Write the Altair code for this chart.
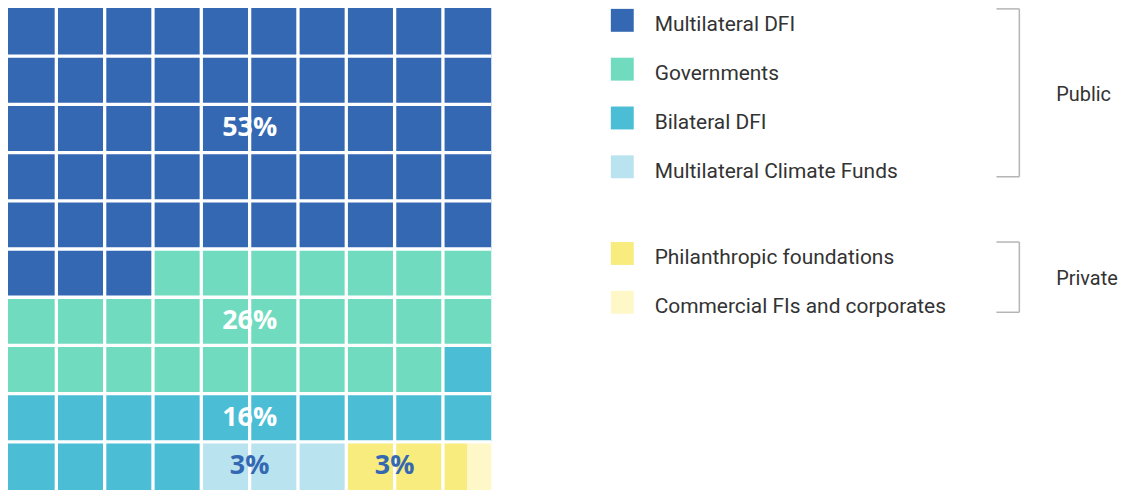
import math
import altair as alt
import pandas as pd

# ---------------- data ----------------
categories = [
    "Multilateral DFI",
    "Governments",
    "Bilateral DFI",
    "Multilateral Climate Funds",
    "Philanthropic foundations",
    "Commercial FIs and corporates",
]
cell_counts = [53, 26, 15, 3, 2.5, 0.5]          # cells out of 100 in the waffle
groups = ["Public", "Public", "Public", "Public", "Private", "Private"]
colors = ["#3468b3", "#70dbbf", "#4bbed6", "#b9e3ef", "#f7ec7d", "#fef7c7"]

pct_labels = ["53%", "26%", "16%", "3%", "3%"]
pct_label_col = [5, 5, 5, 5, 8]
pct_label_row = [2.5, 6.5, 8.5, 9.5, 9.5]
pct_label_color = ["white", "white", "white", "#3468b3", "#3468b3"]

group_names = ["Public", "Private"]

# ---------------- layout ----------------
GRID = 10
W1 = 485
W2 = 510
H = 484
SPACING = 109
ROW_STEP = 49
GROUP_GAP = 38
FIRST_Y = 12.5
SQ_X = 20.5
TXT_X = 53
BR_X = 419
BR_TICK_X = 396
BR_LABEL_X = 456
FONT_SIZE = 21
GROUP_FONT_SIZE = 20

# ---------------- waffle cells ----------------
segs = []
pos = 0.0
for cat, n in zip(categories, cell_counts):
    end = pos + n
    p = pos
    while p < end - 1e-9:
        cell = math.floor(p + 1e-9)
        row = cell // GRID
        nxt = min(end, cell + 1)
        segs.append(dict(cat=cat, x=p - row * GRID, x2=nxt - row * GRID, y=row, y2=row + 1))
        p = nxt
    pos = end
seg_df = pd.DataFrame(segs)

xs = alt.Scale(domain=[0, GRID], nice=False, zero=False)
ys = alt.Scale(domain=[0, GRID], nice=False, zero=False, reverse=True)
cscale = alt.Scale(domain=categories, range=colors)

cells = alt.Chart(seg_df).mark_rect(strokeWidth=0).encode(
    x=alt.X("x:Q", scale=xs, axis=None),
    x2="x2:Q",
    y=alt.Y("y:Q", scale=ys, axis=None),
    y2="y2:Q",
    color=alt.Color("cat:N", scale=cscale, legend=None),
)

grid_df = pd.DataFrame({"g": list(range(1, GRID))})
vlines = alt.Chart(grid_df).mark_rule(color="white", strokeWidth=3.3).encode(
    x=alt.X("g:Q", scale=xs, axis=None)
)
hlines = alt.Chart(grid_df).mark_rule(color="white", strokeWidth=3.3).encode(
    y=alt.Y("g:Q", scale=ys, axis=None)
)

lab_df = pd.DataFrame({
    "t": pct_labels, "cx": pct_label_col, "cy": pct_label_row, "col": pct_label_color
})
labels = alt.Chart(lab_df).mark_text(
    font="Open Sans", fontSize=27, fontWeight="bold", baseline="middle", align="center", dy=0
).encode(
    x=alt.X("cx:Q", scale=xs, axis=None),
    y=alt.Y("cy:Q", scale=ys, axis=None),
    text="t:N",
    color=alt.Color("col:N", scale=None),
)

waffle = alt.layer(cells, vlines, hlines, labels).properties(width=W1, height=H)

# ---------------- legend panel ----------------
leg_rows = []
for i, (cat, g) in enumerate(zip(categories, groups)):
    gi = group_names.index(g)
    yc = FIRST_Y + ROW_STEP * i + GROUP_GAP * gi
    leg_rows.append(dict(cat=cat, grp=g, yc=yc, sx=SQ_X, tx=TXT_X))
leg_df = pd.DataFrame(leg_rows)

lxs = alt.Scale(domain=[0, W2], nice=False, zero=False)
lys = alt.Scale(domain=[0, H], nice=False, zero=False, reverse=True)

squares = alt.Chart(leg_df).mark_square(size=529, opacity=1).encode(
    x=alt.X("sx:Q", scale=lxs, axis=None),
    y=alt.Y("yc:Q", scale=lys, axis=None),
    color=alt.Color("cat:N", scale=cscale, legend=None),
)
leg_text = alt.Chart(leg_df).mark_text(
    font="Roboto", fontSize=FONT_SIZE, align="left", baseline="alphabetic", dy=11, color="#333333"
).encode(
    x=alt.X("tx:Q", scale=lxs, axis=None),
    y=alt.Y("yc:Q", scale=lys, axis=None),
    text="cat:N",
)

br_rows = []
for g in group_names:
    sub = leg_df[leg_df.grp == g]
    top = sub.yc.min() - 11.5
    bot = sub.yc.max() + 10
    br_rows.append(dict(grp=g, top=top, bot=bot, mid=(top + bot) / 2,
                        bx=BR_X, tx0=BR_TICK_X, lx=BR_LABEL_X))
br_df = pd.DataFrame(br_rows)

br_style = dict(color="#b5b5b5", strokeWidth=1.5)
br_v = alt.Chart(br_df).mark_rule(**br_style).encode(
    x=alt.X("bx:Q", scale=lxs, axis=None),
    y=alt.Y("top:Q", scale=lys, axis=None),
    y2="bot:Q",
)
br_t = alt.Chart(br_df).mark_rule(**br_style).encode(
    x=alt.X("tx0:Q", scale=lxs, axis=None),
    x2="bx:Q",
    y=alt.Y("top:Q", scale=lys, axis=None),
)
br_b = alt.Chart(br_df).mark_rule(**br_style).encode(
    x=alt.X("tx0:Q", scale=lxs, axis=None),
    x2="bx:Q",
    y=alt.Y("bot:Q", scale=lys, axis=None),
)
br_lab = alt.Chart(br_df).mark_text(
    font="Roboto", fontSize=GROUP_FONT_SIZE, align="left", baseline="alphabetic", dy=8, color="#333333"
).encode(
    x=alt.X("lx:Q", scale=lxs, axis=None),
    y=alt.Y("mid:Q", scale=lys, axis=None),
    text="grp:N",
)

legend = alt.layer(squares, leg_text, br_v, br_t, br_b, br_lab).properties(width=W2, height=H)

chart = (
    alt.hconcat(waffle, legend, spacing=SPACING)
    .resolve_scale(x="independent", y="independent", color="shared")
    .configure_view(strokeWidth=0)
    .properties(padding={"left": -2, "top": -3, "right": 0, "bottom": 0})
)

chart.save("out.html", embed_options={"renderer": "svg", "actions": False})
